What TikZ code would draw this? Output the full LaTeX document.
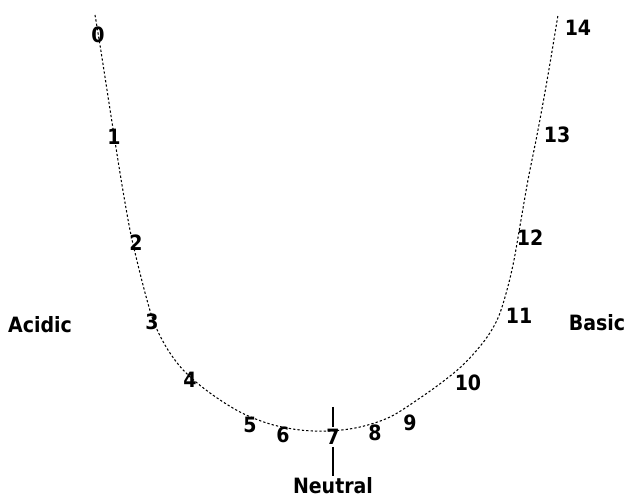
\documentclass[tikz,border=0pt]{standalone}
\usepackage{fontspec}
\usepackage{tikz}
\newfontfamily\labelfont{DejaVu Sans Condensed}

\begin{document}
\begin{tikzpicture}[
    x=0.2mm, y=-0.2mm,
    num/.style={font=\labelfont\bfseries\fontsize{12}{14}\selectfont, inner sep=1pt},
    side/.style={num},
    curve/.style={dash pattern=on 1.3pt off 1.2pt, line width=0.6pt}
]
    \useasboundingbox (0,0) rectangle (625,500);

    % the pH curve
    \draw [curve] plot [smooth, tension=0.55] coordinates {
        (95,15) (100,45) (107,90) (114,135) (122,185) (130,230) (138,265)
        (147,300) (155,325) (168,350) (185,372) (210,393) (240,412)
        (270,424) (300,430) (330,431) (360,427) (390,417) (420,398)
        (445,380) (465,363) (485,340) (498,318) (507,290) (514,260)
        (521,220) (528,180) (538,130) (548,75) (558,15)};

    \node (n0) [num] at (98,35) {0};
    \node (n1) [num] at (114,137) {1};
    \node (n2) [num] at (136,243) {2};
    \node (n3) [num] at (152,322) {3};
    \node (n4) [num] at (190,380) {4};
    \node (n5) [num] at (250,425) {5};
    \node (n6) [num] at (283,435) {6};
    \node (n7) [num] at (333,437) {7};
    \node (n8) [num] at (375,433) {8};
    \node (n9) [num] at (410,423) {9};
    \node (n10) [num] at (468,383) {10};
    \node (n11) [num] at (519,316) {11};
    \node (n12) [num] at (530,238) {12};
    \node (n13) [num] at (557,135) {13};
    \node (n14) [num] at (578,28) {14};

    \node (acidic) [side] at (40,325) {Acidic};
    \node (basic) [side] at (597,323) {Basic};
    \node (neutral) [side] at (333,486) {Neutral};

    % neutral mark
    \coordinate (mark) at (333,407);
    \draw [line width=0.6pt] (mark) -- (n7.north);
    \draw [line width=0.6pt] (n7.south) -- (neutral.north);
\end{tikzpicture}
\end{document}
